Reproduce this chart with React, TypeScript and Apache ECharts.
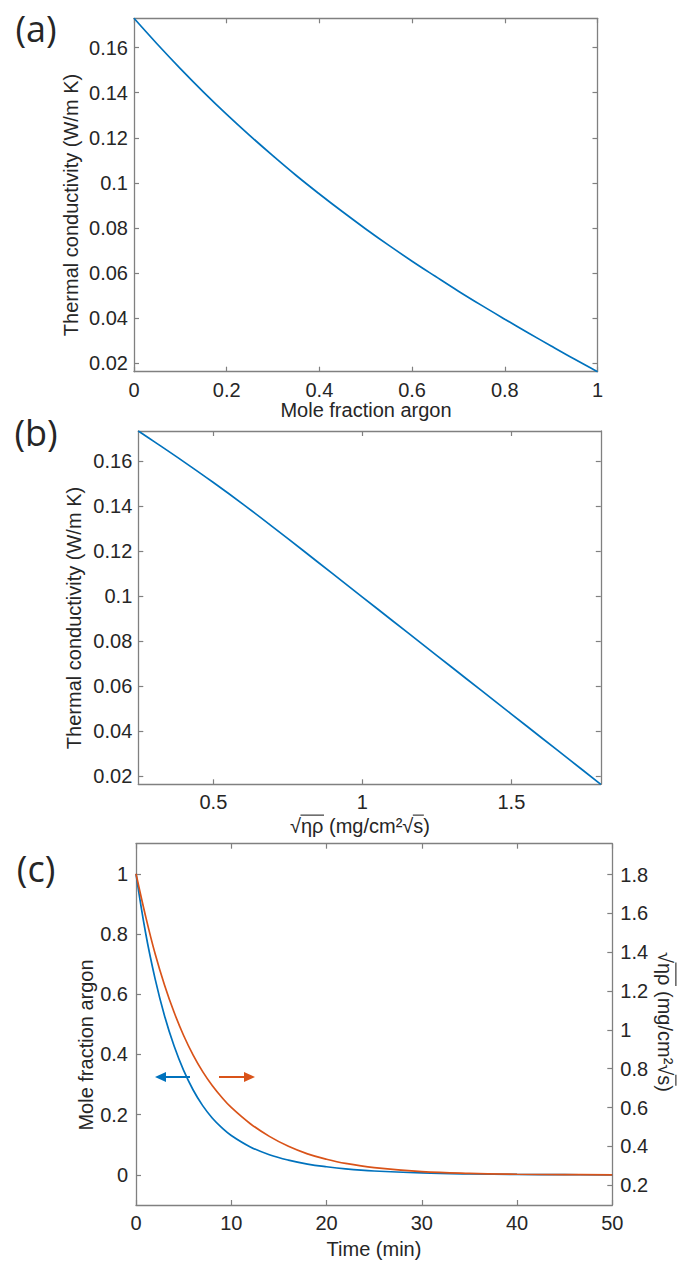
import React, { useEffect, useRef } from "react";
import * as echarts from "echarts";

// (a) thermal conductivity vs mole fraction argon
const aMoleFraction = [0, 0.05, 0.1, 0.15, 0.2, 0.25, 0.3, 0.35, 0.4, 0.45, 0.5, 0.55, 0.6, 0.65, 0.7, 0.75, 0.8, 0.85, 0.9, 0.95, 1.0];
const aConductivity = [0.173, 0.1616, 0.1507, 0.1403, 0.1304, 0.121, 0.112, 0.1033, 0.0951, 0.0872, 0.0796, 0.0723, 0.0653, 0.0586, 0.052, 0.0457, 0.0396, 0.0336, 0.0277, 0.0219, 0.0163];
const aXTicks = [0, 0.2, 0.4, 0.6, 0.8, 1];
const condTicks = [0.02, 0.04, 0.06, 0.08, 0.1, 0.12, 0.14, 0.16];

// (b) thermal conductivity vs sqrt(eta rho)
const bSqrtEtaRho = [0.248, 0.3, 0.4, 0.5, 0.6, 0.7, 0.8, 0.9, 1.0, 1.1, 1.2, 1.3, 1.4, 1.5, 1.6, 1.7, 1.8];
const bConductivity = [0.1733, 0.1687, 0.1597, 0.1504, 0.1407, 0.1306, 0.1203, 0.1099, 0.0995, 0.0891, 0.0787, 0.0683, 0.0579, 0.0475, 0.0371, 0.0267, 0.0163];
const bXTicks = [0.5, 1, 1.5];

// (c) purge over time
const cTime = [0, 1, 2, 3, 4, 5, 6, 7, 8, 9, 10, 12, 14, 16, 18, 20, 22, 25, 30, 35, 40, 45, 50];
const cMoleFraction = [1, 0.805, 0.652, 0.528, 0.428, 0.347, 0.282, 0.23, 0.189, 0.157, 0.131, 0.093, 0.067, 0.049, 0.036, 0.027, 0.02, 0.013, 0.0065, 0.0032, 0.0015, 0.0007, 0.0003];
const cSqrtEtaRho = [1.8036, 1.5866, 1.3928, 1.23, 1.0905, 0.9711, 0.8703, 0.7851, 0.7137, 0.6533, 0.6006, 0.5169, 0.4517, 0.4006, 0.3618, 0.3339, 0.3122, 0.2905, 0.2704, 0.2611, 0.2567, 0.2547, 0.2538];
const cXTicks = [0, 10, 20, 30, 40, 50];
const cLeftTicks = [0, 0.2, 0.4, 0.6, 0.8, 1];
const cRightTicks = [0.2, 0.4, 0.6, 0.8, 1, 1.2, 1.4, 1.6, 1.8];

const SQRT_TITLE = "√ηρ (mg/cm²√s)";

const AX = "#808080";
const TXT = "#262626";
const FONT = "Liberation Sans";
const BLUE = "#0072BD";
const ORANGE = "#D95319";

function axis(gridIndex: number, position: string, min: number, max: number, ticks: number[], showLabels: boolean, margin = 7) {
  return {
    type: "value",
    gridIndex,
    position,
    min,
    max,
    axisLine: { show: true, onZero: false, lineStyle: { color: AX, width: 1.3 } },
    axisTick: { show: true, inside: true, length: 5, customValues: ticks, lineStyle: { color: AX, width: 1.2 } },
    axisLabel: { show: showLabels, customValues: ticks, margin, color: TXT, fontSize: 20, fontFamily: FONT },
    splitLine: { show: false },
  };
}

function zip(xs: number[], ys: number[]) {
  return xs.map((x, i) => [x, ys[i]]);
}

function label(text: string, x: number, y: number, rotation = 0, size = 20, family = FONT) {
  return {
    type: "text",
    x,
    y,
    rotation,
    style: { text, fill: TXT, font: `${size}px "${family}"`, align: "center", verticalAlign: "middle" },
  };
}

// text with radical vinculum lines over given character ranges
function radicalLabel(text: string, x: number, y: number, rotation: number, ranges: number[][]) {
  const font = `20px "${FONT}"`;
  const ctx = document.createElement("canvas").getContext("2d");
  const children: any[] = [
    { type: "text", x: 0, y: 0, style: { text, fill: TXT, font, align: "center", verticalAlign: "middle" } },
  ];
  if (ctx) {
    ctx.font = font;
    ctx.textBaseline = "middle";
    const total = ctx.measureText(text).width;
    const left = -total / 2;
    const m = ctx.measureText("√");
    const top = -(m.actualBoundingBoxAscent || 10) + 0.6;
    ranges.forEach(([s, e]) => {
      const x1 = left + ctx.measureText(text.slice(0, s)).width - 0.5;
      const x2 = left + ctx.measureText(text.slice(0, e)).width + 0.5;
      children.push({ type: "line", shape: { x1, y1: top, x2, y2: top }, style: { stroke: TXT, lineWidth: 1.1 } });
    });
  }
  return { type: "group", x, y, rotation, children };
}

export default function App() {
  const ref = useRef<HTMLDivElement>(null);
  useEffect(() => {
    if (!ref.current) return;
    const chart = echarts.init(ref.current, undefined, { renderer: "svg" });
    const line = (data: number[][], xi: number, yi: number, color: string) => ({
      type: "line",
      data,
      xAxisIndex: xi,
      yAxisIndex: yi,
      showSymbol: false,
      smooth: 0.4,
      lineStyle: { color, width: 1.7 },
      itemStyle: { color },
      z: 3,
    });
    const ranges = [[1, 3], [12, 13]];
    chart.setOption({
      animation: false,
      backgroundColor: "#ffffff",
      grid: [
        { left: 134, top: 18.3, width: 463.5, height: 353.4, containLabel: false },
        { left: 138.3, top: 431, width: 462.5, height: 353.3, containLabel: false },
        { left: 136, top: 843.7, width: 476.3, height: 361.3, containLabel: false },
      ],
      xAxis: [
        axis(0, "bottom", 0, 1, aXTicks, true, 8),
        axis(0, "top", 0, 1, aXTicks, false),
        axis(1, "bottom", 0.248, 1.8, bXTicks, true, 8),
        axis(1, "top", 0.248, 1.8, bXTicks, false),
        axis(2, "bottom", 0, 50, cXTicks, true, 8),
        axis(2, "top", 0, 50, cXTicks, false),
      ],
      yAxis: [
        axis(0, "left", 0.0163, 0.173, condTicks, true, 6),
        axis(0, "right", 0.0163, 0.173, condTicks, false),
        axis(1, "left", 0.0163, 0.1733, condTicks, true, 6),
        axis(1, "right", 0.0163, 0.1733, condTicks, false),
        axis(2, "left", -0.1, 1.1, cLeftTicks, true, 8),
        axis(2, "right", 0.0983, 1.9586, cRightTicks, true, 8),
      ],
      series: [
        line(zip(aMoleFraction, aConductivity), 0, 0, BLUE),
        line(zip(bSqrtEtaRho, bConductivity), 2, 2, BLUE),
        line(zip(cTime, cMoleFraction), 4, 4, BLUE),
        line(zip(cTime, cSqrtEtaRho), 4, 5, ORANGE),
      ],
      graphic: [
        label("(a)", 36, 28, 0, 36, "Open Sans"),
        label("(b)", 36, 432, 0, 36, "Open Sans"),
        label("(c)", 36, 868, 0, 36, "Open Sans"),
        label("Thermal conductivity (W/m K)", 71, 205, Math.PI / 2),
        label("Mole fraction argon", 366, 410),
        label("Thermal conductivity (W/m K)", 74, 618, Math.PI / 2),
        radicalLabel(SQRT_TITLE, 360, 826, 0, ranges),
        label("Mole fraction argon", 86, 1045, Math.PI / 2),
        label("Time (min)", 374, 1249),
        radicalLabel(SQRT_TITLE, 665, 1022, -Math.PI / 2, ranges),
        { type: "line", shape: { x1: 190, y1: 1077, x2: 163, y2: 1077 }, style: { stroke: BLUE, lineWidth: 2 } },
        { type: "polygon", shape: { points: [[155, 1077], [166, 1072], [166, 1082]] }, style: { fill: BLUE } },
        { type: "line", shape: { x1: 219, y1: 1077, x2: 246, y2: 1077 }, style: { stroke: ORANGE, lineWidth: 2 } },
        { type: "polygon", shape: { points: [[255, 1077], [244, 1072], [244, 1082]] }, style: { fill: ORANGE } },
      ],
    });
    return () => chart.dispose();
  }, []);
  return <div ref={ref} style={{ position: "absolute", left: 0, top: 0, width: 682, height: 1264 }} />;
}
